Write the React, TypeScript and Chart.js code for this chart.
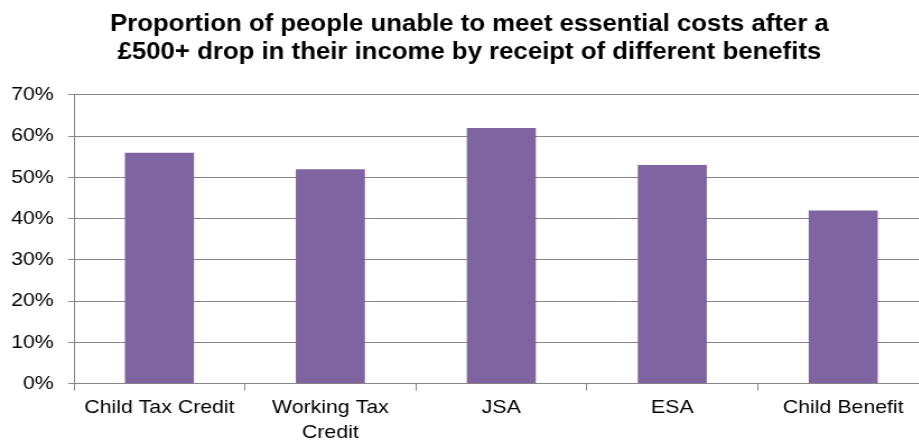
import React, { useEffect, useRef } from "react";
import { Chart, registerables } from "chart.js";

Chart.register(...registerables);

const titleLines = [
  "Proportion of people unable to meet essential costs after a",
  "£500+ drop in their income by receipt of different benefits",
];
const categories: (string | string[])[] = [
  "Child Tax Credit",
  ["Working Tax", "Credit"],
  "JSA",
  "ESA",
  "Child Benefit",
];
const values = [56, 52, 62, 53, 42];
const yMax = 70;
const yStep = 10;

const STRETCH = 1.12;
const CSS_W = 950;
const VIEW_H = 443;
const CANVAS_H = 450;
const INNER_W = Math.round(CSS_W / STRETCH);

export default function App() {
  const ref = useRef<HTMLCanvasElement | null>(null);
  useEffect(() => {
    if (!ref.current) return;
    const font = "'Liberation Sans', Arial, sans-serif";
    const chart = new Chart(ref.current, {
      type: "bar",
      data: {
        labels: categories,
        datasets: [
          {
            data: values,
            backgroundColor: "#8064A2",
            categoryPercentage: 1,
            barPercentage: 0.404,
          },
        ],
      },
      options: {
        responsive: false,
        maintainAspectRatio: false,
        animation: false,
        devicePixelRatio: 1,
        layout: { padding: { left: 9, right: 19, top: 11, bottom: 0 } },
        plugins: {
          legend: { display: false },
          tooltip: { enabled: false },
          title: {
            display: true,
            text: titleLines,
            color: "#000",
            font: { family: font, size: 23, weight: "bold", lineHeight: 1.217 },
            padding: { top: 0, bottom: 28 },
          },
        },
        scales: {
          x: {
            afterFit: (s: any) => {
              s.paddingLeft = 0;
              s.paddingRight = 0;
            },
            grid: {
              drawOnChartArea: false,
              drawTicks: true,
              tickLength: 7,
              color: "#868686",
            },
            border: { color: "#868686" },
            ticks: {
              color: "#000",
              font: { family: font, size: 19, lineHeight: 1.3 },
              padding: 5,
              maxRotation: 0,
              autoSkip: false,
            },
          },
          y: {
            min: 0,
            max: yMax,
            afterFit: (s: any) => {
              s.width = 57;
            },
            grid: { color: "#868686", tickLength: 5 },
            border: { color: "#868686" },
            ticks: {
              stepSize: yStep,
              color: "#000",
              font: { family: font, size: 19 },
              padding: 13,
              callback: (v: any) => v + "%",
            },
          },
        },
      },
    });
    return () => chart.destroy();
  }, []);
  return (
    <div
      style={{
        position: "fixed",
        left: 0,
        top: 0,
        width: 919,
        height: VIEW_H,
        overflow: "hidden",
        background: "#fff",
      }}
    >
      <canvas
        ref={ref}
        width={INNER_W}
        height={CANVAS_H}
        style={{ display: "block", width: CSS_W, height: CANVAS_H }}
      />
    </div>
  );
}
